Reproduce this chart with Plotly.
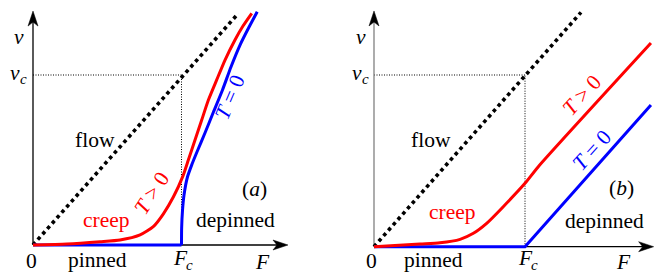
import plotly.graph_objects as go

W, H = 662, 273

# ---------------- data (in units of F_c and v_c) ----------------
# panel (a)
flow_a_F = [0.0, 1.383]
flow_a_v = [0.0, 1.363]
red_a_F = [0.0, 0.229, 0.451, 0.586, 0.721, 0.810, 0.877, 0.945, 1.008, 1.046, 1.091, 1.136,
           1.181, 1.237, 1.293, 1.360, 1.414, 1.473]
red_a_v = [0.0, 0.006, 0.019, 0.029, 0.059, 0.108, 0.182, 0.282, 0.402, 0.500, 0.618, 0.735,
           0.853, 0.971, 1.088, 1.206, 1.288, 1.363]
blue_a_flat_F = [0.0, 1.0]
blue_a_flat_v = [0.0, 0.0]
blue_a_F = [1.0, 1.001, 1.007, 1.017, 1.040, 1.071, 1.104, 1.158, 1.215, 1.276, 1.333, 1.394,
            1.455, 1.510]
blue_a_v = [0.0, 0.100, 0.206, 0.294, 0.400, 0.476, 0.547, 0.659, 0.782, 0.912, 1.047, 1.176,
            1.282, 1.372]

# panel (b)
flow_b_F = [0.0, 1.371]
flow_b_v = [0.0, 1.365]
red_b_F = [0.0, 0.305, 0.437, 0.570, 0.658, 0.746, 0.856, 1.0, 1.088, 1.834]
red_b_v = [0.0, 0.016, 0.023, 0.043, 0.078, 0.136, 0.233, 0.369, 0.466, 1.186]
blue_b_F = [0.0, 1.0, 1.834]
blue_b_v = [0.0, 0.0, 0.825]

RED = "#ff0000"
BLUE = "#0000ff"
FONT = "Liberation Serif"
FS = 21.5
FS_SUB = 15

# pixel geometry of each panel: origin px and unit sizes
PA = dict(x0=33.0, ux=148.5, y0=245.0, uy=170.0, xmin=0, xmax=331)
PB = dict(x0=374.0, ux=151.0, y0=246.7, uy=171.7, xmin=331, xmax=662)


def rng(p):
    xr = [(p["xmin"] - p["x0"]) / p["ux"], (p["xmax"] - p["x0"]) / p["ux"]]
    yr = [(p["y0"] - H) / p["uy"], p["y0"] / p["uy"]]
    return xr, yr


fig = go.Figure()


def add_panel(xa, ya, flowF, flowv, redF, redv, blue_parts):
    fig.add_trace(go.Scatter(x=flowF, y=flowv, mode="lines", xaxis=xa, yaxis=ya,
                             line=dict(color="black", width=3.6, dash="dot"), hoverinfo="skip"))
    for bF, bv, shp in blue_parts:
        fig.add_trace(go.Scatter(x=bF, y=bv, mode="lines", xaxis=xa, yaxis=ya,
                                 line=dict(color=BLUE, width=3, shape=shp, smoothing=0.6),
                                 hoverinfo="skip"))
    fig.add_trace(go.Scatter(x=redF, y=redv, mode="lines", xaxis=xa, yaxis=ya,
                             line=dict(color=RED, width=3, shape="spline", smoothing=0.6),
                             hoverinfo="skip"))


add_panel("x", "y", flow_a_F, flow_a_v, red_a_F, red_a_v,
          [(blue_a_flat_F, blue_a_flat_v, "linear"), (blue_a_F, blue_a_v, "spline")])
add_panel("x2", "y2", flow_b_F, flow_b_v, red_b_F, red_b_v,
          [(blue_b_F, blue_b_v, "linear")])

xa_r, ya_r = rng(PA)
xb_r, yb_r = rng(PB)

ax_common = dict(visible=False, showgrid=False, zeroline=False, fixedrange=True)
fig.update_layout(
    width=W, height=H, margin=dict(l=0, r=0, t=0, b=0),
    paper_bgcolor="white", plot_bgcolor="rgba(0,0,0,0)", showlegend=False,
    font=dict(family=FONT, size=FS),
    xaxis=dict(domain=[0, 0.5], range=xa_r, **ax_common),
    yaxis=dict(domain=[0, 1], range=ya_r, **ax_common),
    xaxis2=dict(domain=[0.5, 1], range=xb_r, anchor="y2", **ax_common),
    yaxis2=dict(domain=[0, 1], range=yb_r, anchor="x2", **ax_common),
)

shapes = []
annos = []


def axes_arrows(xr, yr, p, xtip, ytip, ycolor):
    ux, uy = p["ux"], p["uy"]
    # vc guide lines (thin dotted)
    for (x0, y0, x1, y1) in [(0, 1, 1, 1), (1, 0, 1, 1)]:
        shapes.append(dict(type="line", xref=xr, yref=yr, x0=x0, y0=y0, x1=x1, y1=y1,
                           line=dict(color="black", width=1, dash="1px,1.5px"), layer="below"))
    # axis lines
    shapes.append(dict(type="line", xref=xr, yref=yr, x0=0, y0=0, x1=xtip - 8 / ux, y1=0,
                       line=dict(color="black", width=1.3), layer="below"))
    shapes.append(dict(type="line", xref=xr, yref=yr, x0=0, y0=0, x1=0, y1=ytip - 8 / uy,
                       line=dict(color=ycolor, width=1.3), layer="below"))
    # stealth arrow heads (L = length px, w = half width px)
    L, w, n = 15.0, 5.0, 11.0
    hx = (f"M{xtip},0 L{xtip - L / ux},{w / uy} L{xtip - n / ux},0 "
          f"L{xtip - L / ux},{-w / uy} Z")
    hy = (f"M0,{ytip} L{w / ux},{ytip - L / uy} L0,{ytip - n / uy} "
          f"L{-w / ux},{ytip - L / uy} Z")
    for pth in (hx, hy):
        shapes.append(dict(type="path", xref=xr, yref=yr, path=pth, fillcolor="black",
                           line=dict(color="black", width=0.5)))


axes_arrows("x", "y", PA, 1.717, 1.376, "black")
axes_arrows("x2", "y2", PB, 1.852, 1.373, "#808080")


def label(px, py, text, color="black", size=FS, angle=0, italic=False):
    annos.append(dict(xref="paper", yref="paper", x=px / W, y=1 - py / H, text=text,
                      showarrow=False, xanchor="center", yanchor="middle", textangle=angle,
                      font=dict(family=FONT, size=size, color=color,
                                style="italic" if italic else "normal")))


# panel (a) texts
label(19, 37, "v", italic=True)
label(15, 73, "v", italic=True)
label(23, 79, "c", size=FS_SUB, italic=True)
label(31, 261, "0")
label(98, 260, "pinned")
label(180, 258, "F", italic=True)
label(189, 265, "c", size=FS_SUB, italic=True)
label(262, 262, "F", italic=True)
label(95, 140, "flow")
label(107, 220, "creep", RED)
label(152, 193, "<i>T</i> &gt; 0", RED, angle=-57)
label(230, 97, "<i>T</i> = 0", BLUE, angle=-67)
label(254, 189, "(<i>a</i>)")
label(235, 220, "depinned")

# panel (b) texts
label(361, 37, "v", italic=True)
label(357, 73, "v", italic=True)
label(365, 79, "c", size=FS_SUB, italic=True)
label(371, 261, "0")
label(433, 260, "pinned")
label(525, 258, "F", italic=True)
label(534, 265, "c", size=FS_SUB, italic=True)
label(623, 262, "F", italic=True)
label(431, 140, "flow")
label(452, 212, "creep", RED)
label(582, 95, "<i>T</i> &gt; 0", RED, angle=-48)
label(592, 150, "<i>T</i> = 0", BLUE, angle=-48)
label(621, 188, "(<i>b</i>)")
label(604, 221, "depinned")

fig.update_layout(shapes=shapes, annotations=annos)
fig.write_html("out.html", post_script="document.body.style.margin='0px';",
               config={"displayModeBar": False})
